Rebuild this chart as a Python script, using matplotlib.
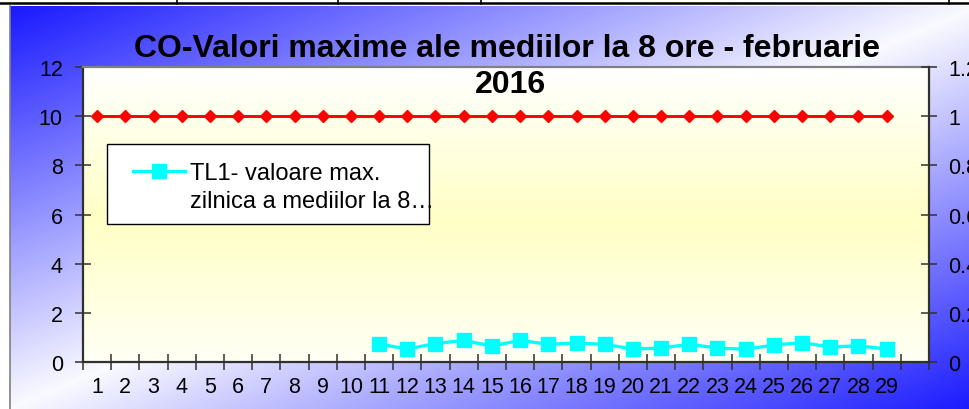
import numpy as np
import matplotlib
matplotlib.use("Agg")
import matplotlib.pyplot as plt
from matplotlib.patches import Rectangle

plt.rcParams['font.family'] = ['Liberation Sans', 'DejaVu Sans']

# data
days = list(range(1, 30))
x_labels = [str(d) for d in days] + ['']  # 30 category slots, the last one unlabeled
limit_val = [10, 10, 10, 10, 10, 10, 10, 10, 10, 10, 10, 10, 10, 10, 10,
             10, 10, 10, 10, 10, 10, 10, 10, 10, 10, 10, 10, 10, 10]
tl1_val = [np.nan, np.nan, np.nan, np.nan, np.nan, np.nan, np.nan, np.nan, np.nan, np.nan,
           0.74, 0.54, 0.76, 0.89, 0.66, 0.89, 0.73, 0.78, 0.73, 0.54,
           0.58, 0.73, 0.58, 0.53, 0.70, 0.80, 0.62, 0.67, 0.54]
left_ticks = [0, 2, 4, 6, 8, 10, 12]
right_ticks = [0, 0.2, 0.4, 0.6, 0.8, 1.0, 1.2]
right_labels = ['0', '0.2', '0.4', '0.6', '0.8', '1', '1.2']
title_lines = ['CO-Valori maxime ale mediilor la 8 ore - februarie', '2016']
legend_lines = ['TL1- valoare max.', 'zilnica a mediilor la 8…']

W, H = 969, 410
fig = plt.figure(figsize=(W / 100, H / 100), dpi=100)

# background layer in pixel coords (y down)
bg = fig.add_axes([0, 0, 1, 1])
gx, gy = np.meshgrid(np.linspace(0, 1, 400), np.linspace(0, 1, 200))
t = np.clip(np.abs((gx + gy) - 1.0), 0, 1)  # white band on the anti-diagonal, blue corners
blue = np.array([25, 25, 255]) / 255.
white = np.array([250, 250, 255]) / 255.
grad = white[None, None, :] * (1 - t[..., None]) + blue[None, None, :] * t[..., None]
bg.imshow(grad, extent=(10, W + 10, H, 7), aspect='auto', zorder=0)
bg.plot([10, 10], [7, H], color='#808080', lw=1.2, zorder=2)
# bits of the table above the chart
bg.plot([0, W], [4, 4], color='black', lw=1.8, zorder=2)
for vx in [177, 338, 481, 949]:
    bg.plot([vx, vx], [0, 5], color='black', lw=1.2, zorder=2)
bg.set_xlim(0, W)
bg.set_ylim(H, 0)
bg.axis('off')

# plot area
ax = fig.add_axes([83 / W, 1 - 363.3 / H, (929 - 83) / W, (363.3 - 68) / H])
ax.patch.set_visible(False)
yy = np.linspace(0, 1, 300)[:, None]
c_top = np.array([255, 255, 255]) / 255.
c_mid = np.array([255, 255, 198]) / 255.
c_bot = np.array([255, 255, 245]) / 255.
col = np.where(yy < 0.52, c_top + (c_mid - c_top) * (yy / 0.52),
               c_mid + (c_bot - c_mid) * ((yy - 0.52) / 0.48))
ax.imshow(col[:, None, :], extent=(0, 1, 0, 1), transform=ax.transAxes,
          aspect='auto', zorder=0)

xpos = np.array(days) - 0.5
ax.plot(xpos, limit_val, color='#ff0000', lw=2.1, marker='D', ms=6.2,
        markeredgecolor='#ff0000', zorder=3)
ax.plot(xpos, tl1_val, color='#00ffff', lw=2.4, marker='s', ms=10.5,
        markeredgecolor='#00ffff', zorder=3)

ax.set_xlim(0, 30)
ax.set_ylim(0, 12)
ax.set_xticks(np.arange(0, 31))
ax.set_xticklabels([])
ax.set_xticks(np.arange(30) + 0.5, minor=True)
ax.set_xticklabels(x_labels, minor=True)
ax.tick_params(axis='x', which='major', direction='inout', length=12, width=1.1,
               color='#303030')
ax.tick_params(axis='x', which='minor', length=0, pad=10, labelsize=15.5)
ax.set_yticks(left_ticks)
ax.set_yticklabels([str(v) for v in left_ticks])
ax.tick_params(axis='y', direction='inout', length=12, width=1.1, color='#303030',
               pad=8.5, labelsize=15.5)
for s in ['left', 'bottom']:
    ax.spines[s].set_color('#303030')
    ax.spines[s].set_linewidth(1.6)
ax.spines['top'].set_color('#808080')
ax.spines['top'].set_linewidth(1.6)
ax.spines['right'].set_visible(False)

ax2 = ax.twinx()
ax2.set_ylim(0, 1.2)
ax2.set_yticks(right_ticks)
ax2.set_yticklabels(right_labels)
ax2.tick_params(axis='y', direction='inout', length=12, width=1.1, color='#303030',
                pad=8, labelsize=15.5)
for s in ['left', 'top', 'bottom']:
    ax2.spines[s].set_visible(False)
ax2.spines['right'].set_color('#303030')
ax2.spines['right'].set_linewidth(1.6)

# overlay in pixel coords for title and legend box
ov = fig.add_axes([0, 0, 1, 1])
ov.set_xlim(0, W)
ov.set_ylim(H, 0)
ov.axis('off')

ov.text(507, 56.7, title_lines[0], ha='center', va='baseline', fontsize=23,
        fontweight='bold')
ov.text(510, 93.3, title_lines[1], ha='center', va='baseline', fontsize=23,
        fontweight='bold')

ov.add_patch(Rectangle((107.5, 145), 322, 80, facecolor='white', edgecolor='black',
                       lw=1.0, zorder=4))
ov.plot([133, 185], [171.7, 171.7], color='#00ffff', lw=2.4, zorder=5)
ov.plot([159.5], [171.7], color='#00ffff', marker='s', ms=10, zorder=5)
ov.text(190, 180, legend_lines[0], ha='left', va='baseline', fontsize=17, zorder=6)
ov.text(190, 208.3, legend_lines[1], ha='left', va='baseline', fontsize=17, zorder=6)

fig.savefig('out.png', dpi=100)
